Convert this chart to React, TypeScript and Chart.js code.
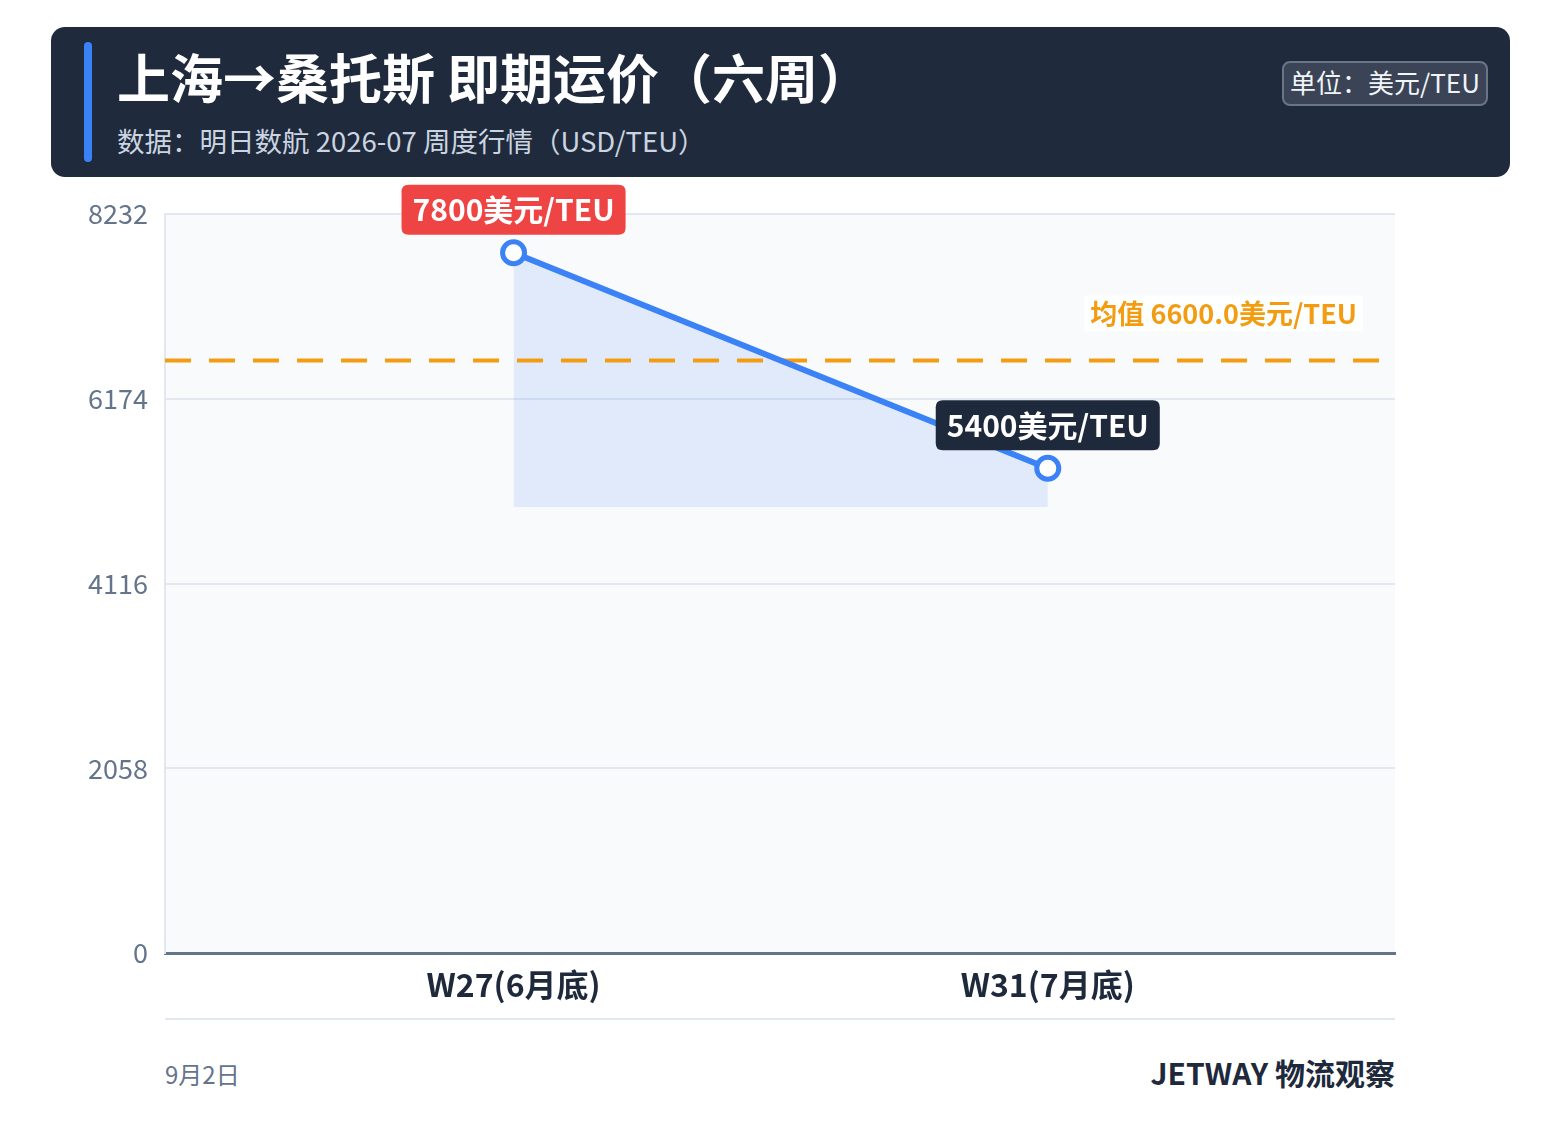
import React, { useEffect, useRef } from "react";
import { Chart, registerables } from "chart.js";

Chart.register(...registerables);

const weekNums = [27, 31];
const weekLabels = ["W27(6月底)", "W31(7月底)"];
const rates = [7800, 5400];
const pointLabels = ["7800美元/TEU", "5400美元/TEU"];
const pointLabelColors = ["#ef4444", "#1e293b"];
const averageRate = 6600;
const averageText = "均值 6600.0美元/TEU";
const fillFloor = 4968;
const yTicks = [0, 2058, 4116, 6174, 8232];
const xMin = 24.39;
const xMax = 33.6;

const FONT = "'Noto Sans CJK SC', 'Noto Sans', sans-serif";

function roundRect(ctx: CanvasRenderingContext2D, x: number, y: number, w: number, h: number, r: number) {
  ctx.beginPath();
  ctx.moveTo(x + r, y);
  ctx.lineTo(x + w - r, y);
  ctx.quadraticCurveTo(x + w, y, x + w, y + r);
  ctx.lineTo(x + w, y + h - r);
  ctx.quadraticCurveTo(x + w, y + h, x + w - r, y + h);
  ctx.lineTo(x + r, y + h);
  ctx.quadraticCurveTo(x, y + h, x, y + h - r);
  ctx.lineTo(x, y + r);
  ctx.quadraticCurveTo(x, y, x + r, y);
  ctx.closePath();
}

const decorPlugin = {
  id: "decor",
  beforeDraw(chart: any) {
    const { ctx, chartArea } = chart;
    ctx.save();
    ctx.fillStyle = "#f8fafc";
    ctx.fillRect(chartArea.left, chartArea.top, chartArea.right - chartArea.left, chartArea.bottom - chartArea.top);
    ctx.restore();
  },
  beforeDatasetsDraw(chart: any) {
    const { ctx, chartArea, scales } = chart;
    const y = scales.y.getPixelForValue(averageRate);
    ctx.save();
    ctx.strokeStyle = "#f39c12";
    ctx.lineWidth = 4;
    ctx.setLineDash([26, 18]);
    ctx.beginPath();
    ctx.moveTo(chartArea.left, y);
    ctx.lineTo(chartArea.right, y);
    ctx.stroke();
    ctx.restore();
  },
  afterDatasetsDraw(chart: any) {
    const { ctx, chartArea, scales } = chart;
    ctx.save();
    // average label
    const ay = scales.y.getPixelForValue(averageRate);
    ctx.font = `bold 27px ${FONT}`;
    const aw = ctx.measureText(averageText).width;
    const ax = chartArea.right - 38;
    ctx.fillStyle = "rgba(255,255,255,0.85)";
    ctx.fillRect(ax - aw - 6, ay - 65, aw + 12, 36);
    ctx.fillStyle = "#f39c12";
    ctx.textAlign = "right";
    ctx.textBaseline = "middle";
    ctx.fillText(averageText, ax, ay - 47);

    // point labels
    const meta = chart.getDatasetMeta(0);
    meta.data.forEach((pt: any, i: number) => {
      ctx.font = `bold 30px ${FONT}`;
      const tw = ctx.measureText(pointLabels[i]).width;
      const bw = tw + 22;
      const bh = 50;
      const bx = pt.x - bw / 2;
      const by = pt.y - 18 - bh;
      ctx.fillStyle = pointLabelColors[i];
      roundRect(ctx, bx, by, bw, bh, 7);
      ctx.fill();
      ctx.fillStyle = "#ffffff";
      ctx.textAlign = "center";
      ctx.textBaseline = "middle";
      ctx.fillText(pointLabels[i], pt.x, by + bh / 2);
    });
    ctx.restore();
  },
};

export default function App() {
  const canvasRef = useRef<HTMLCanvasElement | null>(null);

  useEffect(() => {
    const canvas = canvasRef.current;
    if (!canvas) return;
    const chart = new Chart(canvas, {
      type: "line",
      data: {
        datasets: [
          {
            data: weekNums.map((w, i) => ({ x: w, y: rates[i] })),
            borderColor: "#3b82f6",
            borderWidth: 6,
            backgroundColor: "rgba(59,130,246,0.13)",
            fill: { value: fillFloor },
            pointRadius: 11,
            pointBorderWidth: 5,
            pointBackgroundColor: "#ffffff",
            pointBorderColor: "#3b82f6",
            tension: 0,
          },
        ],
      },
      options: {
        responsive: false,
        devicePixelRatio: 1,
        animation: false,
        layout: { padding: { top: 34, right: 25, left: 0, bottom: 0 } },
        plugins: {
          legend: { display: false },
          tooltip: { enabled: false },
          filler: { drawTime: "beforeDatasetsDraw" },
        },
        scales: {
          x: {
            type: "linear",
            min: xMin,
            max: xMax,
            afterBuildTicks: (scale: any) => {
              scale.ticks = weekNums.map((v) => ({ value: v }));
            },
            afterFit: (scale: any) => {
              scale.height = 77;
            },
            ticks: {
              callback: (v: any) => {
                const idx = weekNums.indexOf(Number(v));
                return idx >= 0 ? weekLabels[idx] : "";
              },
              font: { family: FONT, size: 32, weight: "bold" },
              color: "#1e293b",
              padding: 13,
              maxRotation: 0,
              autoSkip: false,
            },
            grid: { display: false, drawTicks: false },
            border: { color: "#64748b", width: 3 },
          },
          y: {
            min: 0,
            max: 8232,
            afterBuildTicks: (scale: any) => {
              scale.ticks = yTicks.map((v) => ({ value: v }));
            },
            afterFit: (scale: any) => {
              scale.width = 105;
            },
            ticks: {
              callback: (v: any) => String(v),
              font: { family: FONT, size: 27 },
              color: "#64748b",
              padding: 17,
            },
            grid: { color: "#e2e8f0", lineWidth: 2, drawTicks: false },
            border: { color: "#e2e8f0", width: 2 },
          },
        },
      },
      plugins: [decorPlugin],
    } as any);
    return () => chart.destroy();
  }, []);

  return (
    <div style={{ position: "absolute", left: 0, top: 0, width: 1561, height: 1145, background: "#ffffff", fontFamily: FONT }}>
      <div
        style={{
          position: "absolute",
          left: 51,
          top: 27,
          width: 1459,
          height: 150,
          background: "#1f2a3c",
          borderRadius: 14,
        }}
      >
        <div style={{ position: "absolute", left: 33, top: 15, width: 8, height: 120, background: "#3b82f6", borderRadius: 4 }} />
        <div style={{ position: "absolute", left: 66, top: 13, color: "#ffffff", fontSize: 53, fontWeight: 700, lineHeight: "72px", whiteSpace: "nowrap" }}>
          上海→桑托斯 即期运价（六周）
        </div>
        <div style={{ position: "absolute", left: 66, top: 94, color: "#cbd5e1", fontSize: 27.5, lineHeight: "38px", whiteSpace: "nowrap" }}>
          数据：明日数航 2026-07 周度行情（USD/TEU）
        </div>
        <div
          style={{
            position: "absolute",
            left: 1231,
            top: 34,
            width: 206,
            height: 45,
            boxSizing: "border-box",
            border: "2px solid #6b7588",
            background: "#3a4456",
            borderRadius: 8,
            color: "#f1f5f9",
            fontSize: 26,
            lineHeight: "38px",
            textAlign: "center",
            whiteSpace: "nowrap",
          }}
        >
          单位：美元/TEU
        </div>
      </div>
      <canvas ref={canvasRef} width={1360} height={850} style={{ position: "absolute", left: 60, top: 180, width: 1360, height: 850 }} />
      <div style={{ position: "absolute", left: 165, top: 1018, width: 1230, height: 2, background: "#e2e8f0" }} />
      <div style={{ position: "absolute", left: 165, top: 1057, color: "#64748b", fontSize: 24, lineHeight: "34px", whiteSpace: "nowrap" }}>9月2日</div>
      <div style={{ position: "absolute", right: 1561 - 1395, top: 1052, color: "#1e293b", fontSize: 30, fontWeight: 700, lineHeight: "40px", whiteSpace: "nowrap" }}>
        JETWAY 物流观察
      </div>
    </div>
  );
}
